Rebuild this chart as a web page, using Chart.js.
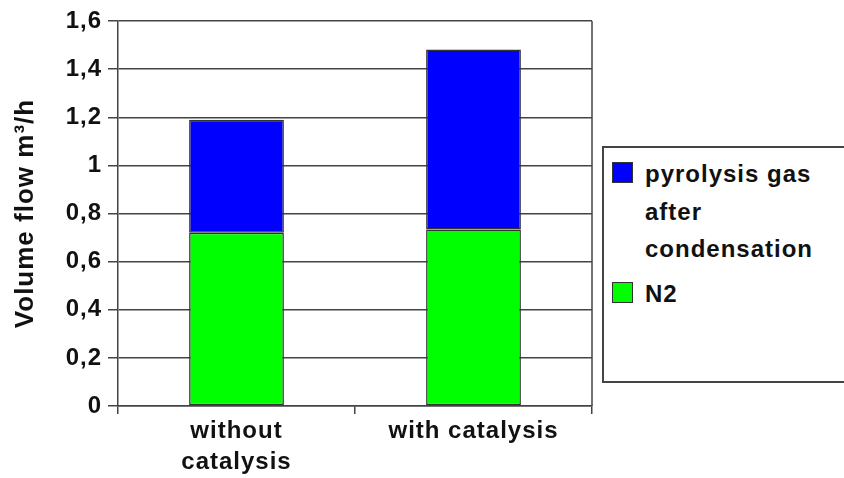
<!DOCTYPE html>
<html>
<head>
<meta charset="utf-8">
<script src="https://cdn.jsdelivr.net/npm/chart.js@4"></script>
<style>
  html, body { margin: 0; padding: 0; background: #fff; overflow: hidden; }
  #wrap { position: relative; width: 844px; height: 478px; }
  #legendBox {
    position: absolute; left: 602px; top: 146px; width: 260px; height: 237px;
    border: 2px solid #444; box-sizing: border-box; background: #fff;
  }
  .sw { position: absolute; width: 21px; height: 21px; box-sizing: border-box; border: 1px solid #333; }
  .lt {
    position: absolute; left: 41px; width: 185px;
    font: bold 24px "Liberation Sans", Arial, sans-serif; letter-spacing: 1px;
    line-height: 37.5px; color: #111;
  }
</style>
</head>
<body>
<div id="wrap">
  <canvas id="chart" width="844" height="478"></canvas>
  <div id="legendBox"></div>
</div>
<script>
const categories = [["without", "catalysis"], "with catalysis"];
const n2Values = [0.72, 0.734];
const pyrolysisValues = [0.47, 0.748];
const yTickLabels = ["0", "0,2", "0,4", "0,6", "0,8", "1", "1,2", "1,4", "1,6"];

const legendItems = [
  { text: "pyrolysis gas after condensation", color: "#0000ff" },
  { text: "N2", color: "#00ff00" },
];

// legend drawn as html, positions are relative to the legend box
const legendBox = document.getElementById("legendBox");
const legendTops = [14, 134];
legendItems.forEach((item, i) => {
  const sw = document.createElement("div");
  sw.className = "sw";
  sw.style.left = "8px";
  sw.style.top = legendTops[i] + "px";
  sw.style.background = item.color;
  legendBox.appendChild(sw);
  const t = document.createElement("div");
  t.className = "lt";
  t.style.top = legendTops[i] - 7 + "px";
  t.textContent = item.text;
  legendBox.appendChild(t);
});

const spacing = {
  id: "spacing",
  beforeLayout(chart) { chart.ctx.letterSpacing = "1px"; },
  beforeDraw(chart) { chart.ctx.letterSpacing = "1px"; },
};

const rightBorder = {
  id: "rightBorder",
  afterDraw(chart) {
    const { ctx, chartArea } = chart;
    ctx.save();
    ctx.strokeStyle = "#444";
    ctx.lineWidth = 1.5;
    ctx.beginPath();
    ctx.moveTo(chartArea.right, chartArea.top);
    ctx.lineTo(chartArea.right, chartArea.bottom);
    ctx.stroke();
    ctx.restore();
  },
};

const font = { family: "'Liberation Sans', Arial, sans-serif", size: 24, weight: "bold" };

new Chart(document.getElementById("chart"), {
  type: "bar",
  data: {
    labels: categories,
    datasets: [
      {
        label: "N2",
        data: n2Values,
        backgroundColor: "#00ff00",
        borderColor: "#333",
        borderWidth: 1.5,
        borderSkipped: false,
      },
      {
        label: "pyrolysis gas after condensation",
        data: pyrolysisValues,
        backgroundColor: "#0000ff",
        borderColor: "#333",
        borderWidth: 1.5,
        borderSkipped: false,
      },
    ],
  },
  options: {
    responsive: false,
    animation: false,
    layout: { padding: { top: 21, right: 252, left: 0, bottom: 0 } },
    plugins: { legend: { display: false }, tooltip: { enabled: false } },
    datasets: { bar: { categoryPercentage: 0.8, barPercentage: 0.5 } },
    scales: {
      x: {
        stacked: true,
        offset: true,
        grid: { offset: true, drawOnChartArea: false, tickLength: 8, color: "#444", lineWidth: 1.5 },
        border: { color: "#444", width: 1.5 },
        ticks: { color: "#111", font: { ...font, lineHeight: 1.3 }, padding: 2, maxRotation: 0 },
        afterFit(scale) { scale.height = 72; },
      },
      y: {
        stacked: true,
        min: 0,
        max: 1.6,
        ticks: {
          stepSize: 0.2,
          color: "#111",
          font: font,
          padding: 6,
          callback: (v, i) => yTickLabels[i],
        },
        grid: { color: "#444", lineWidth: 1.5, tickLength: 10 },
        border: { color: "#444", width: 1.5 },
        title: {
          display: true,
          text: "Volume flow m³/h",
          color: "#111",
          font: { ...font, size: 26, lineHeight: 1.1 },
          padding: { top: 12, bottom: 0 },
        },
        afterFit(scale) { scale.width = 118; },
      },
    },
  },
  plugins: [spacing, rightBorder],
});
</script>
</body>
</html>
